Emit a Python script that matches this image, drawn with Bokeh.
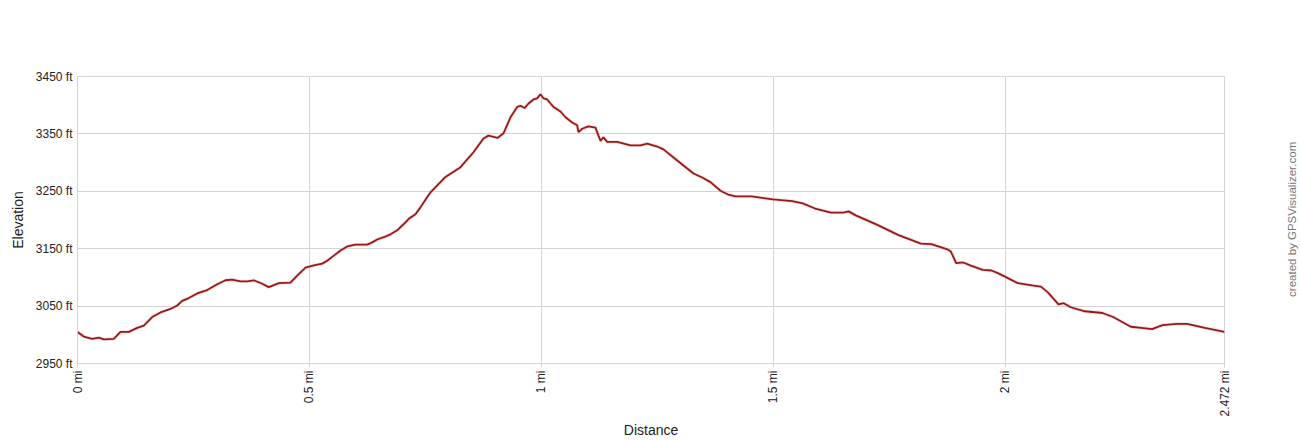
import math
from bokeh.plotting import figure
from bokeh.layouts import row
from bokeh.models import FixedTicker, Range1d
from bokeh.core.properties import value
from bokeh.embed import file_html
from bokeh.resources import INLINE

distance_mi = [0.000, 0.0136, 0.0317, 0.0459, 0.0567, 0.0782, 0.0927, 0.1106, 0.1287, 0.1429,
               0.161, 0.1789, 0.2004, 0.2149, 0.2256, 0.2399, 0.258, 0.2795, 0.3011, 0.319,
               0.3334, 0.3513, 0.3657, 0.38, 0.3981, 0.4123, 0.4338, 0.459, 0.4735, 0.4914,
               0.5093, 0.5274, 0.5381, 0.5524, 0.5668, 0.5813, 0.5991, 0.6244, 0.6351, 0.6459,
               0.6601, 0.6746, 0.689, 0.7032, 0.714, 0.7284, 0.7392, 0.7537, 0.7608, 0.7931,
               0.8254, 0.8534, 0.875, 0.8858, 0.9052, 0.9181, 0.9332, 0.9476, 0.9547, 0.9634,
               0.972, 0.9828, 0.9907, 0.9978, 1.0043, 1.0123, 1.0194, 1.0259, 1.0409, 1.0517,
               1.0661, 1.0769, 1.0797, 1.0877, 1.1013, 1.1164, 1.1228, 1.1272, 1.1336, 1.1416,
               1.1631, 1.1918, 1.2134, 1.2278, 1.2494, 1.2629, 1.2845, 1.306, 1.3276, 1.3463,
               1.3642, 1.3858, 1.403, 1.4181, 1.4526, 1.4985, 1.5403, 1.5631, 1.5897, 1.6239,
               1.6504, 1.6619, 1.6772, 1.7228, 1.7683, 1.8177, 1.8405, 1.8748, 1.8823, 1.8937,
               1.9091, 1.9241, 1.9509, 1.9698, 1.9849, 2.0267, 2.0571, 2.0763, 2.0914, 2.1142,
               2.1256, 2.1407, 2.1711, 2.2091, 2.2321, 2.2701, 2.2929, 2.3157, 2.3384, 2.3688,
               2.3916, 2.4297, 2.472]
elevation_ft = [3005, 2997, 2993, 2995, 2992, 2993, 3005, 3005, 3012, 3016,
                3031, 3039, 3045, 3051, 3059, 3064, 3072, 3078, 3088, 3095,
                3096, 3093, 3093, 3095, 3089, 3083, 3090, 3091, 3103, 3117,
                3121, 3124, 3129, 3138, 3147, 3154, 3157, 3157, 3161, 3166,
                3170, 3175, 3182, 3193, 3202, 3210, 3222, 3240, 3248, 3275,
                3292, 3318, 3342, 3347, 3343, 3351, 3379, 3397, 3399, 3395,
                3403, 3410, 3412, 3419, 3412, 3410, 3403, 3397, 3389, 3379,
                3370, 3365, 3353, 3359, 3363, 3361, 3347, 3338, 3344, 3336,
                3336, 3330, 3330, 3333, 3328, 3323, 3309, 3295, 3281, 3274,
                3266, 3251, 3244, 3241, 3241, 3236, 3233, 3229, 3220, 3213,
                3213, 3215, 3208, 3192, 3174, 3159, 3158, 3149, 3145, 3125,
                3126, 3121, 3113, 3112, 3107, 3090, 3086, 3084, 3074, 3053,
                3055, 3048, 3041, 3038, 3031, 3014, 3012, 3010, 3017, 3019,
                3019, 3012, 3005]

x_ticks = [0, 0.5, 1, 1.5, 2, 2.472]
x_tick_labels = ["0 mi", "0.5 mi", "1 mi", "1.5 mi", "2 mi", "2.472 mi"]
y_ticks = [2950, 3050, 3150, 3250, 3350, 3450]
y_tick_labels = ["2950 ft", "3050 ft", "3150 ft", "3250 ft", "3350 ft", "3450 ft"]
credit_text = "created by GPSVisualizer.com"

FONT = "Liberation Sans"
GRID = "#d4d4d4"

p = figure(width=1276, height=440, output_backend="svg", toolbar_location=None,
           x_range=Range1d(0, 2.472), y_range=Range1d(2950, 3450),
           min_border_left=77, min_border_right=52, min_border_top=76, min_border_bottom=77)
p.background_fill_color = "white"
p.border_fill_color = "white"
p.outline_line_color = GRID

p.line(distance_mi, elevation_ft, line_color="#f0c0c0", line_width=3.5, line_alpha=0.5)
p.line(distance_mi, elevation_ft, line_color="#981818", line_width=1.8)

xa = p.xaxis[0]
xa.ticker = FixedTicker(ticks=x_ticks)
xa.major_label_overrides = {t: l for t, l in zip(x_ticks, x_tick_labels)}
xa.major_label_orientation = math.pi / 2
xa.axis_label = "Distance"
xa.axis_label_text_font = FONT
xa.axis_label_text_font_size = "14px"
xa.axis_label_text_font_style = "normal"
xa.axis_label_text_color = "#222222"
xa.axis_label_standoff = 2
xa.major_label_text_font = FONT
xa.major_label_text_font_size = "12px"
xa.major_label_text_color = "#222222"
xa.major_label_standoff = 3
xa.major_tick_in = 0
xa.major_tick_out = 4
xa.major_tick_line_color = GRID
xa.minor_tick_line_color = None
xa.axis_line_color = GRID

ya = p.yaxis[0]
ya.ticker = FixedTicker(ticks=y_ticks)
ya.major_label_overrides = {t: l for t, l in zip(y_ticks, y_tick_labels)}
ya.axis_label = "Elevation"
ya.axis_label_text_font = FONT
ya.axis_label_text_font_size = "14px"
ya.axis_label_text_font_style = "normal"
ya.axis_label_text_color = "#222222"
ya.axis_label_standoff = 7
ya.major_label_text_font = FONT
ya.major_label_text_font_size = "12px"
ya.major_label_text_color = "#222222"
ya.major_label_standoff = 5
ya.major_tick_in = 0
ya.major_tick_out = 0
ya.minor_tick_line_color = None
ya.axis_line_color = GRID

p.xgrid.ticker = FixedTicker(ticks=x_ticks)
p.ygrid.ticker = FixedTicker(ticks=y_ticks)
p.xgrid.grid_line_color = GRID
p.ygrid.grid_line_color = GRID

# narrow side strip carrying the rotated credit text
side = figure(width=24, height=440, output_backend="svg", toolbar_location=None,
              x_range=Range1d(0, 24), y_range=Range1d(0, 440),
              min_border_left=0, min_border_right=0, min_border_top=0, min_border_bottom=0)
side.axis.visible = False
side.grid.visible = False
side.outline_line_color = None
side.background_fill_color = "white"
side.border_fill_color = "white"
side.text(x=[15.5], y=[221], text=[credit_text], angle=math.pi / 2,
          text_align="center", text_baseline="middle",
          text_font=value(FONT), text_font_size="11.5px", text_color="#777777")

layout = row(p, side, spacing=0)
open("out.html", "w").write(file_html(layout, INLINE))
